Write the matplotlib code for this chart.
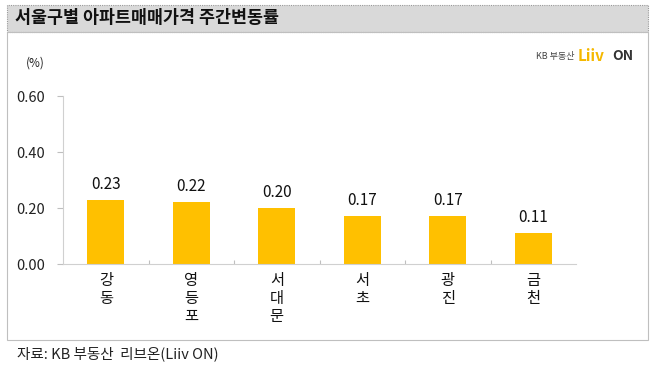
import matplotlib
matplotlib.use('Agg')
import matplotlib.pyplot as plt
from matplotlib.patches import Rectangle

plt.rcParams['font.family'] = ['Noto Sans CJK KR', 'DejaVu Sans']

districts = ['강동', '영등포', '서대문', '서초', '광진', '금천']
changes = [0.23, 0.22, 0.20, 0.17, 0.17, 0.11]
yticks = [0.0, 0.2, 0.4, 0.6]

fig = plt.figure(figsize=(6.58, 3.67), dpi=100)
W, H = 658, 367

def fx(px):
    return px / W

def fy(py):
    return 1 - py / H

# title band and frame
fig.patches.append(Rectangle((fx(7), fy(32)), fx(641), 27 / H, transform=fig.transFigure,
                             facecolor='#d9d9d9', edgecolor='#999999', lw=0.8, ls=(0, (1, 1))))
fig.patches.append(Rectangle((fx(7), fy(340)), fx(641), 308 / H, transform=fig.transFigure,
                             facecolor='none', edgecolor='#bfbfbf', lw=0.8))
fig.text(fx(15), fy(18), '서울구별 아파트매매가격 주간변동률', fontsize=12.5, fontweight='bold',
         va='center', ha='left', color='#111111')

# logo
fig.text(fx(536), fy(56), 'KB 부동산', fontsize=6.5, color='#444444', va='center')
fig.text(fx(578), fy(56), 'Liiv', fontsize=11, color='#f5b800', fontweight='bold', va='center')
fig.text(fx(612), fy(56), 'ON', fontsize=10, color='#333333', fontweight='bold', va='center')

ax = fig.add_axes([fx(63), fy(264), fx(576 - 63), (264 - 96) / H])
x = range(len(districts))
bars = ax.bar(x, changes, width=0.43, color='#ffc000')
for xi, v in zip(x, changes):
    ax.text(xi, v + 0.025, f'{v:.2f}', ha='center', va='bottom', fontsize=11, color='#111111')

ax.set_xlim(-0.5, len(districts) - 0.5)
ax.set_ylim(0, 0.6)
ax.set_yticks(yticks)
ax.set_yticklabels([f'{t:.2f}' for t in yticks], fontsize=10.5, color='#222222')
ax.set_xticks([i + 0.5 for i in range(len(districts) - 1)])
ax.set_xticklabels([])
ax.tick_params(axis='x', length=3, color='#bfbfbf', direction='in')
ax.tick_params(axis='y', length=4, color='#bfbfbf', pad=9)
for s in ['top', 'right']:
    ax.spines[s].set_visible(False)
ax.spines['left'].set_color('#d0d0d0')
ax.spines['bottom'].set_color('#d0d0d0')

for xi, name in zip(x, districts):
    ax.text(xi, -0.03, '\n'.join(name), ha='center', va='top', fontsize=11,
            linespacing=1.05, color='#111111', transform=ax.transData)

fig.text(fx(26), fy(63), '(%)', fontsize=8.5, color='#222222', va='center')
fig.text(fx(17), fy(354), '자료: KB 부동산  리브온(Liiv ON)', fontsize=10.5, color='#222222', va='center')

fig.savefig('out.png', dpi=100)
